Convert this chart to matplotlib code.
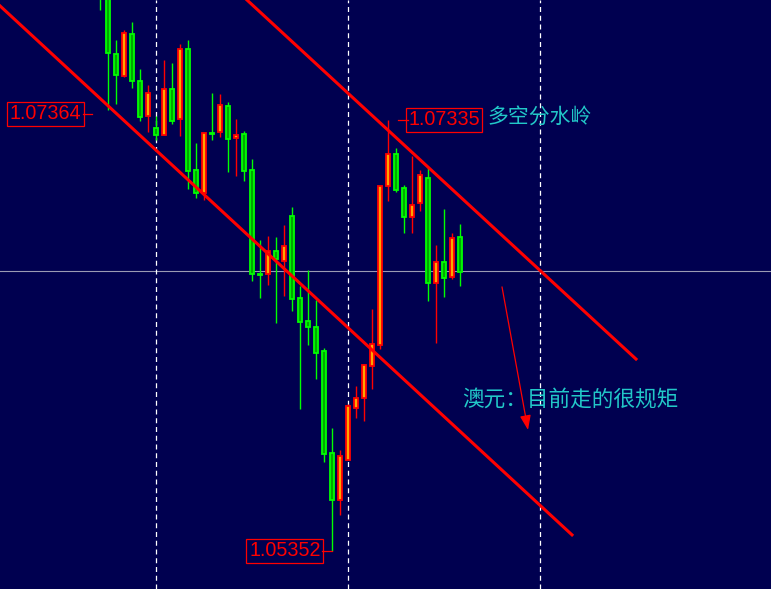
import matplotlib
matplotlib.use("Agg")
import matplotlib.pyplot as plt
from matplotlib import font_manager
from matplotlib.patches import Rectangle

# ---------------- data ----------------
opens = [1.08030, 1.07933, 1.07639, 1.07538, 1.07731, 1.07515, 1.07353, 1.07298, 1.07266, 1.07478,
         1.07340, 1.07662, 1.07105, 1.06999, 1.07275, 1.07280, 1.07399, 1.07252, 1.07271, 1.07105,
         1.06627, 1.06627, 1.06732, 1.06686, 1.06893, 1.06516, 1.06410, 1.06383, 1.06272, 1.05803,
         1.05587, 1.05771, 1.06010, 1.06056, 1.06203, 1.06300, 1.07031, 1.07179, 1.07022, 1.06889,
         1.06953, 1.07068, 1.06585, 1.06682, 1.06613, 1.06797]
highs = [1.08094, 1.07956, 1.07703, 1.07749, 1.07786, 1.07570, 1.07496, 1.07353, 1.07611, 1.07597,
         1.07685, 1.07703, 1.07229, 1.07275, 1.07459, 1.07455, 1.07418, 1.07340, 1.07284, 1.07156,
         1.06783, 1.06801, 1.06797, 1.06852, 1.06935, 1.06571, 1.06645, 1.06507, 1.06286, 1.05918,
         1.05817, 1.06028, 1.06111, 1.06212, 1.06465, 1.07031, 1.07335, 1.07206, 1.07036, 1.07169,
         1.07105, 1.07119, 1.06760, 1.06926, 1.06815, 1.06857]
lows = [1.07841, 1.07381, 1.07409, 1.07533, 1.07482, 1.07330, 1.07280, 1.07243, 1.07266, 1.07317,
        1.07261, 1.07018, 1.06976, 1.06967, 1.07243, 1.07257, 1.07096, 1.07077, 1.07054, 1.06594,
        1.06516, 1.06576, 1.06401, 1.06525, 1.06456, 1.06005, 1.06300, 1.06143, 1.05762, 1.05352,
        1.05518, 1.05771, 1.05964, 1.05950, 1.06097, 1.06281, 1.06962, 1.07004, 1.06815, 1.06815,
        1.06916, 1.06502, 1.06309, 1.06521, 1.06604, 1.06571]
closes = [1.07896, 1.07643, 1.07542, 1.07735, 1.07515, 1.07349, 1.07459, 1.07266, 1.07478, 1.07330,
          1.07662, 1.07100, 1.06999, 1.07275, 1.07271, 1.07404, 1.07248, 1.07266, 1.07100, 1.06627,
          1.06622, 1.06732, 1.06696, 1.06755, 1.06512, 1.06406, 1.06383, 1.06263, 1.05798, 1.05587,
          1.05789, 1.06019, 1.06056, 1.06208, 1.06304, 1.07031, 1.07179, 1.07013, 1.06889, 1.06944,
          1.07082, 1.06585, 1.06682, 1.06608, 1.06792, 1.06636]

# trend channel lines: (bar index, price) endpoints
lower_line_x = [-12.5, 59.0]
lower_line_y = [1.07860, 1.05426]
upper_line_x = [18.375, 67.0]
upper_line_y = [1.07887, 1.06235]

h_line_price = 1.06640
v_line_bars = [7, 31, 55]

price_labels = ["1.07364", "1.07335", "1.05352"]
price_label_values = [1.07364, 1.07335, 1.05352]
price_label_x = [-6.8, 43.0, 23.1]
price_label_lead = [(-2.1, -1.0), (37.25, 38.5), (27.75, 29.0)]

arrow_start = (50.25, 1.06567)
arrow_end = (53.5, 1.05909)

note1 = "多空分水岭"
note1_pos = (48.4, 1.07350)
note2 = "澳元：目前走的很规矩"
note2_pos = (45.3, 1.06050)

# ---------------- style ----------------
BG = "#000050"
UP_FACE, UP_EDGE = "#ffa500", "#ff0000"
DN_FACE, DN_EDGE = "#00a800", "#00ff00"
CYAN = "#22c8c8"

names = {f.name for f in font_manager.fontManager.ttflist}
if "Liberation Sans Narrow" in names:
    num_font, num_size, num_pad = "Liberation Sans Narrow", 17, 0.08
else:
    num_font, num_size, num_pad = "Liberation Sans", 14.2, 0.13

fig = plt.figure(figsize=(7.71, 5.89), dpi=100)
fig.patch.set_facecolor(BG)
ax = fig.add_axes([0, 0, 1, 1])
ax.set_facecolor(BG)
ax.set_xlim(-12.5, 83.875)
ax.set_ylim(1.05177, 1.07887)
ax.axis("off")

# reference lines
ax.axhline(h_line_price, color="#9a9ab4", lw=0.8, zorder=1)
for vb in v_line_bars:
    ax.axvline(vb, color="white", lw=0.9, ls=(0, (4, 3)), zorder=1)

# candles
bw = 0.48
for i, (o, h, l, c) in enumerate(zip(opens, highs, lows, closes)):
    up = c > o
    face, edge = (UP_FACE, UP_EDGE) if up else (DN_FACE, DN_EDGE)
    ax.plot([i, i], [l, h], color=edge, lw=1.0, zorder=3, solid_capstyle="butt")
    lo, hi = min(o, c), max(o, c)
    if hi - lo < 0.00004:
        ax.plot([i - 0.45, i + 0.45], [o, o], color=edge, lw=1.0, zorder=4)
    else:
        ax.add_patch(Rectangle((i - bw / 2, lo), bw, hi - lo, facecolor=face,
                               edgecolor=edge, lw=1.3, zorder=4))

# trend lines
ax.plot(lower_line_x, lower_line_y, color="#ff0000", lw=2.2, zorder=5)
ax.plot(upper_line_x, upper_line_y, color="#ff0000", lw=2.2, zorder=5)

# price labels
for txt, val, lx, (a, b) in zip(price_labels, price_label_values, price_label_x, price_label_lead):
    ax.plot([a, b], [val, val], color="#ff0000", lw=0.9, zorder=6)
    ax.text(lx, val, txt, color="#ff0000", fontsize=num_size, family=num_font,
            ha="center", va="center", zorder=7,
            bbox=dict(boxstyle=f"square,pad={num_pad}", fc="none", ec="#ff0000", lw=0.9))

# arrow
ax.annotate("", xy=arrow_end, xytext=arrow_start,
            arrowprops=dict(arrowstyle="-|>,head_length=0.8,head_width=0.3", color="#ff0000",
                            lw=0.9, mutation_scale=11, shrinkA=0, shrinkB=0), zorder=6)

cjk = ["Noto Sans CJK SC", "DejaVu Sans"]
ax.text(*note1_pos, note1, color=CYAN, fontsize=15, family=cjk, ha="left", va="center")
ax.text(*note2_pos, note2, color=CYAN, fontsize=15.6, family=cjk, ha="left", va="center")

fig.savefig("out.png", dpi=100, facecolor=BG)
